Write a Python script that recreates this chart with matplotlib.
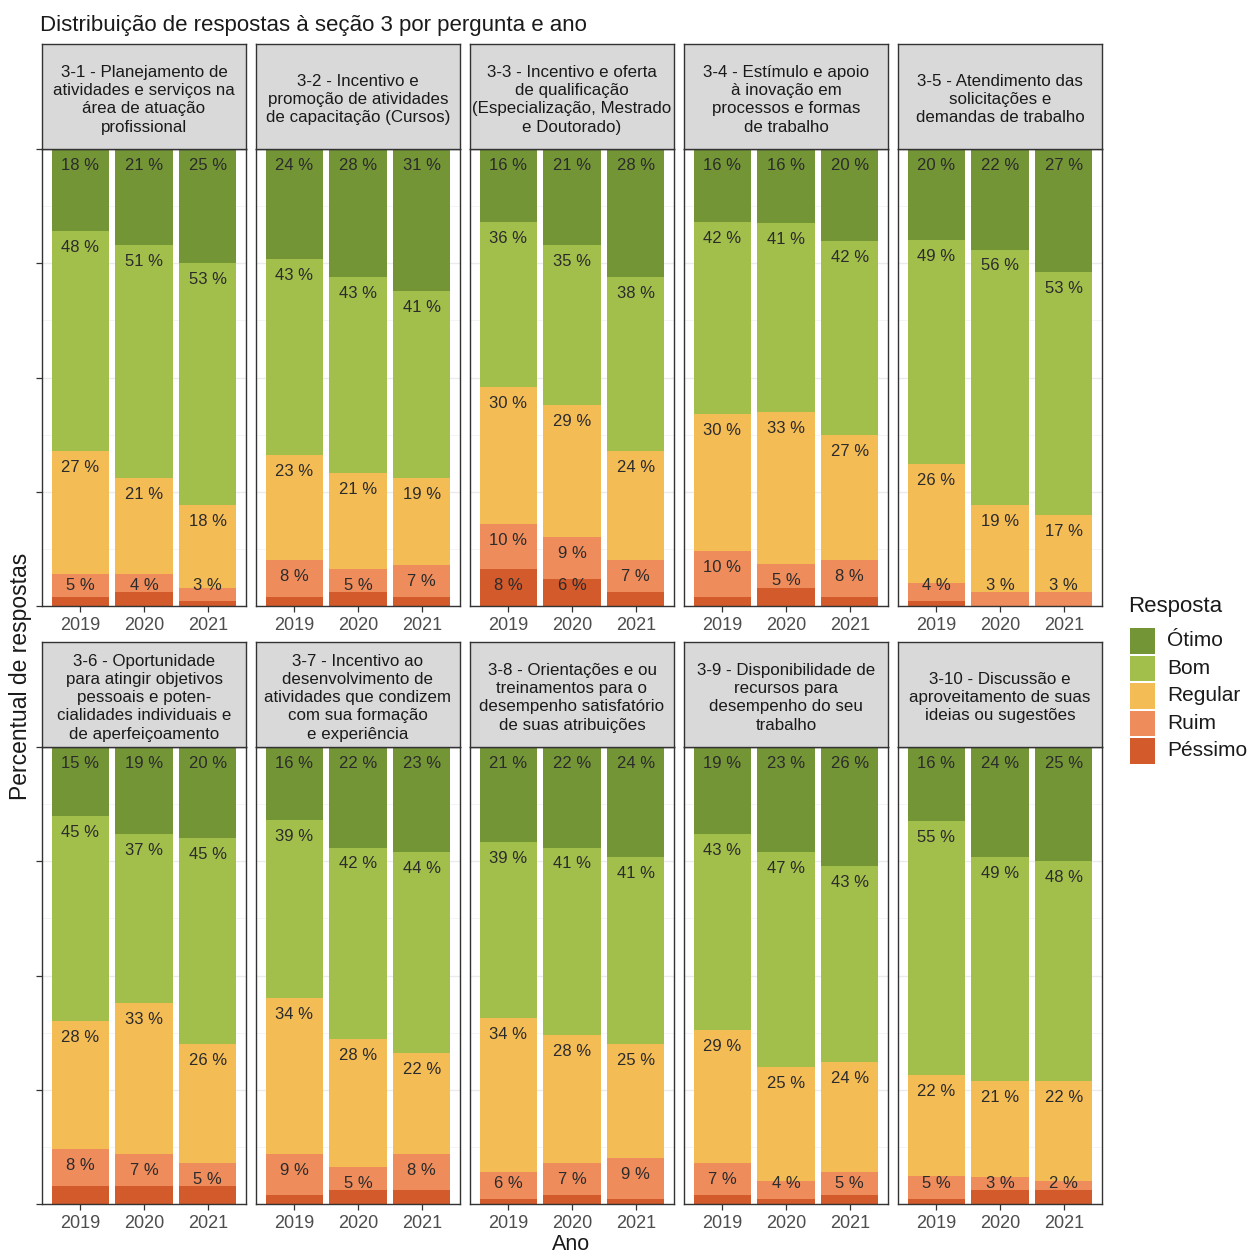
import matplotlib
matplotlib.use('Agg')
import matplotlib.pyplot as plt
from matplotlib.patches import Rectangle
import numpy as np

plt.rcParams['font.family'] = ['Liberation Sans', 'DejaVu Sans']

# ---------------- data ----------------
years = ['2019', '2020', '2021']
questions = [
    "3-1 - Planejamento de\natividades e serviços na\nárea de atuação\nprofissional",
    "3-2 - Incentivo e\npromoção de atividades\nde capacitação (Cursos)",
    "3-3 - Incentivo e oferta\nde qualificação\n(Especialização, Mestrado\ne Doutorado)",
    "3-4 - Estímulo e apoio\nà inovação em\nprocessos e formas\nde trabalho",
    "3-5 - Atendimento das\nsolicitações e\ndemandas de trabalho",
    "3-6 - Oportunidade\npara atingir objetivos\npessoais e poten-\ncialidades individuais e\nde aperfeiçoamento",
    "3-7 - Incentivo ao\ndesenvolvimento de\natividades que condizem\ncom sua formação\ne experiência",
    "3-8 - Orientações e ou\ntreinamentos para o\ndesempenho satisfatório\nde suas atribuições",
    "3-9 - Disponibilidade de\nrecursos para\ndesempenho do seu\ntrabalho",
    "3-10 - Discussão e\naproveitamento de suas\nideias ou sugestões",
]
categories = ['Ótimo', 'Bom', 'Regular', 'Ruim', 'Péssimo']
cat_colors = ['#739536', '#A3BF4B', '#F4BC55', '#EE8C5C', '#D25A2B']

otimo = [[18, 21, 25], [24, 28, 31], [16, 21, 28], [16, 16, 20], [20, 22, 27],
         [15, 19, 20], [16, 22, 23], [21, 22, 24], [19, 23, 26], [16, 24, 25]]
bom = [[48, 51, 53], [43, 43, 41], [36, 35, 38], [42, 41, 42], [49, 56, 53],
       [45, 37, 45], [39, 42, 44], [39, 41, 41], [43, 47, 43], [55, 49, 48]]
regular = [[27, 21, 18], [23, 21, 19], [30, 29, 24], [30, 33, 27], [26, 19, 17],
           [28, 33, 26], [34, 28, 22], [34, 28, 25], [29, 25, 24], [22, 21, 22]]
ruim = [[5, 4, 3], [8, 5, 7], [10, 9, 7], [10, 5, 8], [4, 3, 3],
        [8, 7, 5], [9, 5, 8], [6, 7, 9], [7, 4, 5], [5, 3, 2]]
pessimo = [[2, 3, 1], [2, 3, 2], [8, 6, 3], [2, 4, 2], [1, 0, 0],
           [4, 4, 4], [2, 3, 3], [1, 2, 1], [2, 1, 2], [1, 3, 3]]

series = [otimo, bom, regular, ruim, pessimo]

# ---------------- layout ----------------
W, H = 1249, 1256
fig = plt.figure(figsize=(W / 100, H / 100), dpi=100)
fig.patch.set_facecolor('white')


def fx(px):
    return px / W


def fy(py):
    return 1 - py / H


col_left = [42, 256, 470, 684, 898]
pw = 204
rows = [(44, 149, 606), (642, 747, 1204)]
border = '#333333'

x = np.arange(1, 4)
for q in range(10):
    r, c = divmod(q, 5)
    st, pt, pb = rows[r]
    x0 = col_left[c]
    ax = fig.add_axes([fx(x0), fy(pb), pw / W, (pb - pt) / H])
    sax = fig.add_axes([fx(x0), fy(pt), pw / W, (pt - st) / H])

    vals = np.array([s[q] for s in series], dtype=float)  # 5 x 3
    totals = vals.sum(axis=0)
    fill = vals / totals * 100.0

    bottom = np.zeros(3)
    # stack from bottom: Péssimo -> Ótimo
    for k in range(4, -1, -1):
        ax.bar(x, fill[k], width=0.9, bottom=bottom, color=cat_colors[k],
               edgecolor='none', zorder=2)
        top = bottom + fill[k]
        for i in range(3):
            v = vals[k, i]
            if v <= 0:
                continue
            if k == 4 and v < 5:
                continue
            ly = max(top[i] - 3.6, 4.4)
            ax.text(x[i], ly, f"{int(v)} %", ha='center', va='center',
                    fontsize=12, color='#2B2B2B', zorder=3)
        bottom = top

    ax.set_xlim(0.4, 3.6)
    ax.set_ylim(0, 100)
    ax.set_xticks(x)
    ax.set_xticklabels(years)
    ax.set_yticks([0, 25, 50, 75, 100])
    ax.set_yticks([12.5, 37.5, 62.5, 87.5], minor=True)
    ax.grid(True, which='major', color='#EBEBEB', lw=1.0, zorder=0)
    ax.grid(True, which='minor', axis='y', color='#F2F2F2', lw=0.6, zorder=0)
    ax.set_axisbelow(True)
    ax.tick_params(axis='x', length=4, width=0.9, color=border, labelsize=13,
                   labelcolor='#4D4D4D', pad=4)
    ax.tick_params(axis='y', which='both', labelleft=False)
    if c == 0:
        ax.tick_params(axis='y', which='major', length=4, width=0.9, color=border)
    else:
        ax.tick_params(axis='y', which='major', length=0)
    ax.tick_params(axis='y', which='minor', length=0)
    for sp in ax.spines.values():
        sp.set_color(border)
        sp.set_linewidth(1.0)

    sax.set_facecolor('#D9D9D9')
    sax.set_xticks([])
    sax.set_yticks([])
    for sp in sax.spines.values():
        sp.set_color(border)
        sp.set_linewidth(1.0)
    sax.text(0.5, 0.47, questions[q], ha='center', va='center', fontsize=12.2,
             color='#1A1A1A', linespacing=1.27, transform=sax.transAxes)

# titles and axis labels
fig.text(fx(40), fy(25), "Distribuição de respostas à seção 3 por pergunta e ano",
         ha='left', va='center', fontsize=16, color='#1A1A1A')
fig.text(fx(21), fy(676), "Percentual de respostas", rotation=90,
         ha='center', va='center', fontsize=16.5, color='#1A1A1A')
fig.text(fx(571), fy(1245), "Ano", ha='center', va='center', fontsize=15.5,
         color='#1A1A1A')

# legend
fig.text(fx(1128), fy(606), "Resposta", ha='left', va='center', fontsize=16,
         color='#1A1A1A')
key_y0 = 627
key_h = 27.5
for k, (lab, col) in enumerate(zip(categories, cat_colors)):
    yt = key_y0 + k * key_h
    fig.patches.append(Rectangle((fx(1130), fy(yt + key_h - 1)), 25 / W,
                                 (key_h - 2) / H, transform=fig.transFigure,
                                 facecolor=col, edgecolor='none'))
    fig.text(fx(1167), fy(yt + key_h / 2), lab, ha='left', va='center',
             fontsize=15, color='#1A1A1A')

fig.savefig('out.png', dpi=100)
